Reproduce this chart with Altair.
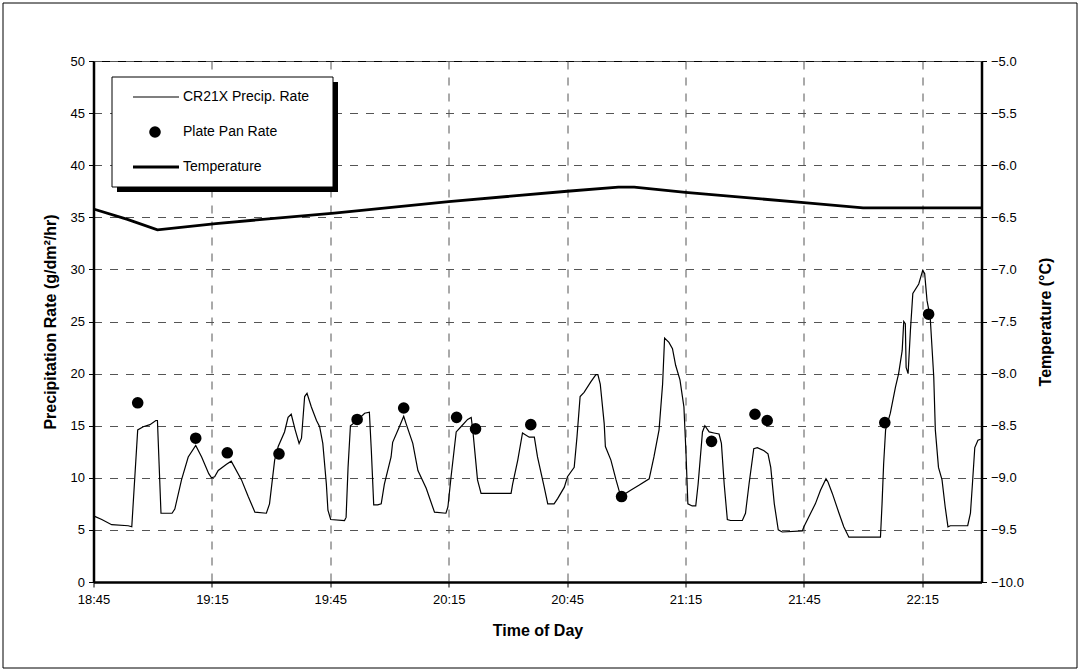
import altair as alt
import pandas as pd

# ---- data ----
# minutes after 18:45
precip_min = [0.3, 2.1, 4.6, 8.8, 9.7, 11.2, 12.6, 14.3, 15.8, 16.2, 17.1, 18.1, 19.9, 20.6, 22.3, 24.0,
              25.9, 27.4, 29.2, 29.9, 30.7, 31.6, 33.7, 34.9, 37.5, 39.2, 40.9, 43.8, 44.6, 45.9, 46.8,
              48.4, 49.3, 50.1, 51.1, 52.1, 52.7, 53.5, 54.1, 55.2, 56.5, 57.3, 58.1, 59.0, 59.4, 60.1,
              63.6, 64.0, 64.5, 65.1, 66.8, 68.7, 69.9, 70.4, 71.0, 72.0, 72.9, 73.7, 75.4, 75.8, 77.5,
              78.6, 79.2, 80.9, 82.2, 84.3, 86.4, 89.3, 89.8, 90.6, 91.9, 93.1, 94.8, 95.7, 96.1, 97.3,
              98.2, 105.8, 106.2, 107.5, 108.7, 110.4, 111.7, 112.5, 114.2, 115.1, 116.7, 117.6, 119.3,
              120.1, 121.8, 122.5, 123.3, 124.3, 126.0, 127.3, 127.8, 128.4, 129.4, 129.7, 131.1, 132.4,
              133.6, 136.1, 138.3, 140.8, 142.0, 143.3, 144.2, 144.7, 145.8, 146.7, 147.5, 148.6, 149.6,
              150.1, 150.6, 151.7, 152.6, 153.2, 154.3, 154.9, 156.0, 157.2, 158.5, 159.1, 159.8, 160.6,
              161.4, 164.4, 165.2, 166.1, 167.3, 168.2, 169.9, 170.9, 171.6, 172.5, 173.5, 174.5, 179.6,
              180.0, 181.7, 182.9, 184.2, 185.6, 186.1, 187.2, 188.9, 190.1, 191.4, 199.4, 199.8, 200.2,
              200.7, 201.9, 203.2, 204.0, 204.9, 205.3, 205.7, 205.9, 206.4, 207.0, 207.6, 209.1, 210.1,
              210.6, 211.2, 212.0, 212.9, 213.3, 214.1, 215.0, 215.8, 216.5, 217.1, 221.5, 222.2, 222.7,
              223.3, 224.1, 224.8]
precip_val = [6.3, 6.0, 5.5, 5.4, 5.3, 14.6, 14.9, 15.1, 15.5, 15.5, 6.6, 6.6, 6.6, 7.0, 9.8, 12.0,
              13.1, 12.0, 10.4, 10.0, 10.1, 10.7, 11.3, 11.6, 9.8, 8.2, 6.7, 6.6, 7.5, 11.7, 13.0,
              14.4, 15.8, 16.1, 14.6, 13.3, 13.8, 17.8, 18.1, 16.8, 15.5, 14.9, 13.3, 9.4, 6.9, 6.0,
              5.9, 6.2, 11.0, 15.0, 15.5, 16.2, 16.3, 12.6, 7.4, 7.4, 7.5, 9.4, 12.0, 13.4, 14.9,
              15.9, 15.2, 13.3, 10.7, 9.0, 6.7, 6.6, 7.2, 10.1, 14.4, 14.9, 15.6, 15.8, 14.6, 9.8,
              8.5, 8.5, 9.4, 11.7, 14.3, 13.9, 13.9, 12.0, 9.1, 7.5, 7.5, 8.0, 9.1,
              10.1, 11.0, 13.9, 17.8, 18.2, 19.2, 19.9, 19.9, 19.0, 15.2, 13.0, 11.7, 9.8,
              8.2, 8.8, 9.3, 9.9, 12.0, 14.6, 19.0, 23.4, 23.0, 22.4, 20.8, 19.4, 16.8,
              12.6, 7.5, 7.3, 7.3, 9.4, 14.4, 15.0, 14.4, 14.3, 14.2, 13.3, 9.4, 6.0,
              5.9, 5.9, 6.6, 9.4, 12.8, 12.9, 12.6, 12.3, 11.0, 7.5, 5.0, 4.8, 4.9,
              5.3, 6.6, 7.5, 8.8, 9.9, 9.6, 8.5, 6.6, 5.3, 4.3, 4.3, 7.5, 11.3,
              14.6, 16.2, 18.7, 20.0, 22.2, 25.0, 24.8, 20.6, 20.0, 24.2, 27.7, 28.6, 29.9,
              29.6, 27.0, 25.4, 19.7, 14.6, 11.0, 9.8, 7.2, 5.3, 5.4, 5.4, 6.6, 9.4,
              12.9, 13.6, 13.7]

pan_min = [11.2, 25.9, 33.9, 47.0, 66.8, 78.6, 92.0, 96.8, 110.8, 133.8, 156.6, 167.6, 170.7, 200.5, 211.6]
pan_val = [17.2, 13.8, 12.4, 12.3, 15.6, 16.7, 15.8, 14.7, 15.1, 8.2, 13.5, 16.1, 15.5, 15.3, 25.7]

temp_min = [0, 8.6, 16.2, 31, 61, 90, 120, 133, 137, 150, 180, 195, 225]
temp_val = [-6.42, -6.52, -6.62, -6.56, -6.46, -6.35, -6.25, -6.21, -6.21, -6.26, -6.36, -6.41, -6.41]

x_tick_labels = ["18:45", "19:15", "19:45", "20:15", "20:45", "21:15", "21:45", "22:15"]
series_names = ["CR21X Precip. Rate", "Plate Pan Rate", "Temperature"]

FONT = "Liberation Sans"
W, H = 888, 521

precip_df = pd.DataFrame({"t": precip_min, "v": precip_val})
pan_df = pd.DataFrame({"t": pan_min, "v": pan_val})
temp_df = pd.DataFrame({"t": temp_min, "v": temp_val})
one = pd.DataFrame({"k": [0]})

label_expr = "[" + ",".join("'%s'" % s for s in x_tick_labels) + "][round(datum.value/30)]"

x_enc = alt.X(
    "t:Q",
    scale=alt.Scale(domain=[0, 225], nice=False, zero=False),
    axis=alt.Axis(
        values=[30 * i for i in range(len(x_tick_labels))],
        labelExpr=label_expr,
        labelFlush=False,
        labelPadding=6,
        title="Time of Day",
        grid=True,
        gridDash=[8, 8],
        gridColor="#555",
        titlePadding=16,
    ),
)

y_left = alt.Y(
    "v:Q",
    scale=alt.Scale(domain=[0, 50], nice=False),
    axis=alt.Axis(
        values=list(range(0, 55, 5)),
        title="Precipitation Rate  (g/dm²/hr)",
        grid=True,
        gridDash=[8, 8],
        gridColor="#555",
        labelFlush=False,
        titlePadding=12,
    ),
)

y_right = alt.Y(
    "v:Q",
    scale=alt.Scale(domain=[-10, -5], nice=False, zero=False),
    axis=alt.Axis(
        orient="right",
        values=[-10 + 0.5 * i for i in range(11)],
        format=".1f",
        labelFlush=False,
        title="Temperature (°C)",
        titleAngle=270,
        grid=False,
        titlePadding=30,
    ),
)

precip_line = alt.Chart(precip_df).mark_line(color="black", strokeWidth=1.2).encode(x=x_enc, y=y_left)
pan_pts = alt.Chart(pan_df).mark_circle(color="black", size=135, opacity=1).encode(x="t:Q", y="v:Q")
temp_line = alt.Chart(temp_df).mark_line(color="black", strokeWidth=2.8).encode(x="t:Q", y=y_right)

# outer frame around the whole picture
frame = alt.Chart(one).mark_rect(fill=None, stroke="black", strokeWidth=1).encode(
    x=alt.value(-90.5), x2=alt.value(983.5), y=alt.value(-58), y2=alt.value(607)
)

# legend box with shadow
shadow = alt.Chart(one).mark_rect(fill="black").encode(
    x=alt.value(23.5), x2=alt.value(244.5), y=alt.value(21), y2=alt.value(131)
)
box = alt.Chart(one).mark_rect(fill="white", stroke="black", strokeWidth=1).encode(
    x=alt.value(18.5), x2=alt.value(239.5), y=alt.value(16), y2=alt.value(126)
)
leg_line1 = alt.Chart(one).mark_rule(color="black", strokeWidth=1.2).encode(
    x=alt.value(39.5), x2=alt.value(85.5), y=alt.value(36)
)
leg_dot = alt.Chart(one).mark_circle(color="black", size=135, opacity=1).encode(
    x=alt.value(61.5), y=alt.value(71)
)
leg_line3 = alt.Chart(one).mark_rule(color="black", strokeWidth=2.8).encode(
    x=alt.value(39.5), x2=alt.value(85.5), y=alt.value(106)
)
leg_texts = [
    alt.Chart(one).mark_text(align="left", baseline="middle", font=FONT, fontSize=14, color="black",
                             text=name).encode(x=alt.value(89.5), y=alt.value(yy))
    for name, yy in zip(series_names, [36, 71, 106])
]

left_layer = alt.layer(precip_line, pan_pts)
chart = (
    alt.layer(left_layer, temp_line, frame, shadow, box, leg_line1, leg_dot, leg_line3, *leg_texts)
    .resolve_scale(y="independent")
    .properties(
        width=W,
        height=H,
        autosize=alt.AutoSizeParams(type="none"),
        padding={"left": 93.5, "top": 61, "right": 1080 - 93.5 - W, "bottom": 671 - 61 - H},
        background="white",
    )
    .configure_view(stroke="black", strokeWidth=1)
    .configure_axis(
        labelFont=FONT,
        titleFont=FONT,
        labelFontSize=13,
        titleFontSize=16,
        titleFontWeight="bold",
        labelColor="black",
        titleColor="black",
        domainColor="black",
        domainWidth=2.5,
        tickColor="black",
        tickSize=5,
        labelPadding=4,
    )
)

chart.save("out.html", embed_options={"renderer": "svg", "actions": False})
